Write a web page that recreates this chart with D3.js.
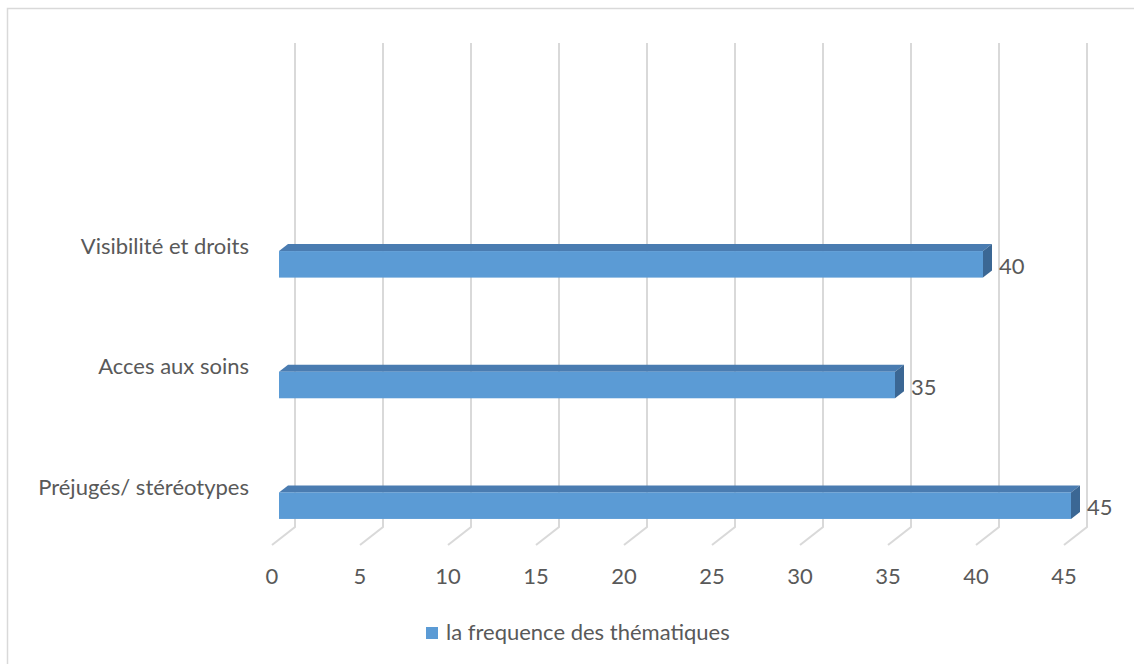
<!DOCTYPE html>
<html>
<head>
<meta charset="utf-8">
<script src="https://cdn.jsdelivr.net/npm/d3@7"></script>
<style>
html,body{margin:0;padding:0;background:#fff;overflow:hidden;}
text{font-family:"Lato","Open Sans",sans-serif;fill:#595959;}
</style>
</head>
<body>
<svg id="chart" width="1134" height="664"></svg>
<script>
const categories = ["Visibilité et droits", "Acces aux soins", "Préjugés/ stéréotypes"];
const values = [40, 35, 45];
const tickValues = [0, 5, 10, 15, 20, 25, 30, 35, 40, 45];
const seriesName = "la frequence des thématiques";

const svg = d3.select("#chart");
const FS = 22;

// chart border
svg.append("rect").attr("x", 7.5).attr("y", 8.5).attr("width", 1140).attr("height", 670)
  .attr("fill", "none").attr("stroke", "#d9d9d9").attr("stroke-width", 1.5);

// scales: front plane of bars
const x = d3.scaleLinear().domain([0, 45]).range([279, 1071]);
const y = d3.scaleBand().domain(categories).range([204, 566]).paddingInner(0.78).paddingOuter(0.39);

const backX = v => x(v) + 16;   // back wall gridline
const frontX = v => x(v) - 7;   // front floor edge
const floorBackY = 527, floorFrontY = 545, topY = 43;

const grid = svg.append("g");
tickValues.forEach(t => {
  grid.append("path")
    .attr("d", `M${backX(t)},${topY}L${backX(t)},${floorBackY}L${frontX(t)},${floorFrontY}`)
    .attr("fill", "none").attr("stroke", "#d9d9d9").attr("stroke-width", 2);
});

// bars
const dx = 9, dy = -7;
const bars = svg.append("g");
categories.forEach((c, i) => {
  const v = values[i];
  const x0 = x(0), x1 = x(v);
  const yt = y(c), yb = y(c) + y.bandwidth();
  bars.append("path")
    .attr("d", `M${x0},${yt}L${x0 + dx},${yt + dy}L${x1 + dx},${yt + dy}L${x1},${yt}Z`)
    .attr("fill", "#4a7cb1");
  bars.append("path")
    .attr("d", `M${x1},${yt}L${x1 + dx},${yt + dy}L${x1 + dx},${yb + dy}L${x1},${yb}Z`)
    .attr("fill", "#3b6794");
  bars.append("rect").attr("x", x0).attr("y", yt).attr("width", x1 - x0).attr("height", yb - yt)
    .attr("fill", "#5b9bd5");
  svg.append("text").attr("x", x1 + 16).attr("y", (yt + yb) / 2 + 4)
    .attr("dominant-baseline", "middle").attr("font-size", FS).text(v);
  svg.append("text").attr("x", 249).attr("y", yt - 3)
    .attr("text-anchor", "end").attr("dominant-baseline", "middle").attr("font-size", FS).text(c);
});

// tick labels
tickValues.forEach(t => {
  svg.append("text").attr("x", frontX(t)).attr("y", 578)
    .attr("text-anchor", "middle").attr("dominant-baseline", "middle").attr("font-size", FS).text(t);
});

// legend
svg.append("rect").attr("x", 426).attr("y", 627).attr("width", 12).attr("height", 12).attr("fill", "#5b9bd5");
svg.append("text").attr("x", 446).attr("y", 634).attr("dominant-baseline", "middle")
  .attr("font-size", FS).text(seriesName);
</script>
</body>
</html>
